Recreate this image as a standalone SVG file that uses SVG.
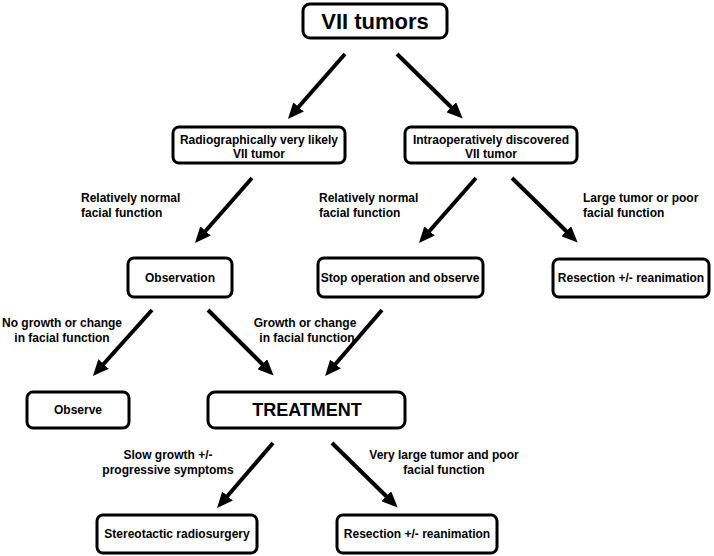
<svg xmlns="http://www.w3.org/2000/svg" width="714" height="556" viewBox="0 0 714 556">
<defs>
<style>
.box{fill:#fff;stroke:#000;stroke-width:3}
.t{font-family:"Liberation Sans",Arial,sans-serif;font-weight:bold;font-size:12px;fill:#000}
.c{text-anchor:middle}
.arr{stroke:#000;stroke-width:4;fill:none;marker-end:url(#ah)}
</style>
<marker id="ah" markerUnits="userSpaceOnUse" markerWidth="16" markerHeight="14" refX="4" refY="7" orient="auto">
<path d="M0,0 L16,7 L0,14 z" fill="#000"/>
</marker>
</defs>
<rect width="714" height="556" fill="#fff"/>
<g id="connectors">
<line class="arr" x1="345" y1="54" x2="295.9" y2="110"/>
<line class="arr" x1="397" y1="54" x2="454.1" y2="110"/>
<line class="arr" x1="252" y1="178" x2="202.9" y2="234"/>
<line class="arr" x1="476" y1="178" x2="426.9" y2="234"/>
<line class="arr" x1="512" y1="178" x2="569.1" y2="234"/>
<line class="arr" x1="152" y1="310" x2="100.9" y2="367"/>
<line class="arr" x1="208" y1="310" x2="265.1" y2="367"/>
<line class="arr" x1="382" y1="310" x2="332.9" y2="367"/>
<line class="arr" x1="273" y1="443" x2="224.9" y2="499"/>
<line class="arr" x1="332" y1="443" x2="389.1" y2="499"/>
</g>
<g id="labels">
<text class="t" x="81" y="202">Relatively normal</text>
<text class="t" x="81" y="217">facial function</text>
<text class="t" x="319" y="202">Relatively normal</text>
<text class="t" x="319" y="217">facial function</text>
<text class="t" x="583" y="202">Large tumor or poor</text>
<text class="t" x="583" y="217">facial function</text>
<text class="t c" x="62" y="327">No growth or change</text>
<text class="t c" x="62" y="342">in facial function</text>
<text class="t c" x="305" y="327">Growth or change</text>
<text class="t c" x="307" y="342">in facial function</text>
<text class="t c" x="168" y="459">Slow growth +/-</text>
<text class="t c" x="168" y="474">progressive symptoms</text>
<text class="t c" x="444" y="459">Very large tumor and poor</text>
<text class="t c" x="444" y="474">facial function</text>
</g>
<g id="vii">
<rect class="box" x="303" y="4" width="144" height="34" rx="7"/>
<text class="t c" x="375" y="29" style="font-size:22px">VII tumors</text>
</g>
<g id="radio">
<rect class="box" x="173" y="127" width="172" height="36" rx="6"/>
<text class="t c" x="259" y="144">Radiographically very likely</text>
<text class="t c" x="259" y="158">VII tumor</text>
</g>
<g id="intraop">
<rect class="box" x="405" y="127" width="172" height="36" rx="6"/>
<text class="t c" x="491" y="144">Intraoperatively discovered</text>
<text class="t c" x="491" y="158">VII tumor</text>
</g>
<g id="observation">
<rect class="box" x="128" y="258" width="104" height="39" rx="6"/>
<text class="t c" x="180" y="282">Observation</text>
</g>
<g id="stop">
<rect class="box" x="318" y="258" width="165" height="39" rx="6"/>
<text class="t c" x="400" y="282">Stop operation and observe</text>
</g>
<g id="resection1">
<rect class="box" x="553" y="259" width="156" height="38" rx="6"/>
<text class="t c" x="631" y="282">Resection +/- reanimation</text>
</g>
<g id="observe">
<rect class="box" x="27" y="392" width="102" height="36" rx="6"/>
<text class="t c" x="78" y="414">Observe</text>
</g>
<g id="treatment">
<rect class="box" x="208" y="392" width="197" height="36" rx="7"/>
<text class="t c" x="307" y="416" style="font-size:18px">TREATMENT</text>
</g>
<g id="stereo">
<rect class="box" x="97" y="515" width="160" height="38" rx="6"/>
<text class="t c" x="177" y="538">Stereotactic radiosurgery</text>
</g>
<g id="resection2">
<rect class="box" x="337" y="515" width="160" height="38" rx="6"/>
<text class="t c" x="417" y="538">Resection +/- reanimation</text>
</g>
</svg>
